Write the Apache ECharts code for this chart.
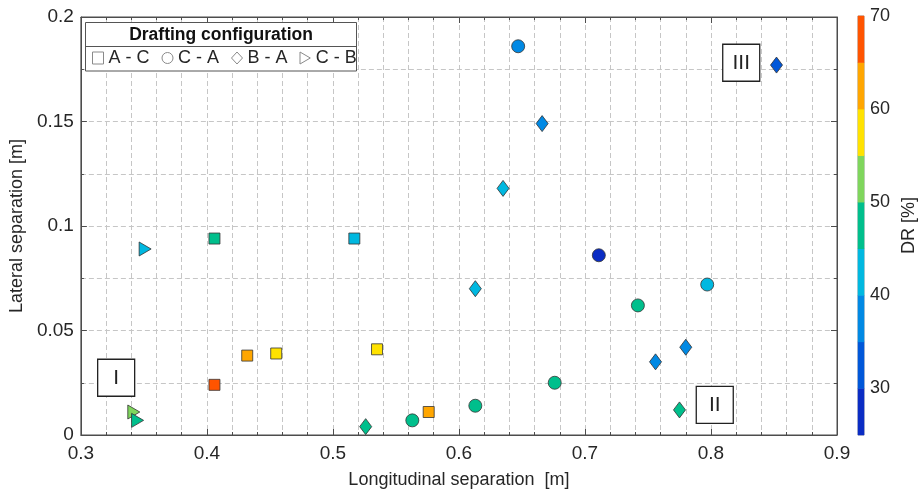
<!DOCTYPE html>
<html>
<head>
<meta charset="utf-8">
<script src="https://cdn.jsdelivr.net/npm/echarts@6/dist/echarts.min.js"></script>
<style>
html,body{margin:0;padding:0;background:#fff;}
#c{width:919px;height:494px;}
</style>
</head>
<body>
<div id="c"></div>
<script>
// ---- Data ----
// A - C (squares)
const acX  = [0.406, 0.432, 0.455, 0.406, 0.517, 0.535, 0.576];
const acY  = [0.024, 0.038, 0.039, 0.094, 0.094, 0.041, 0.011];
const acDR = [67, 62, 57, 47, 42, 57, 62];
// C - A (circles)
const caX  = [0.647, 0.711, 0.797, 0.742, 0.676, 0.613, 0.563];
const caY  = [0.186, 0.086, 0.072, 0.062, 0.025, 0.014, 0.007];
const caDR = [37, 27, 42, 47, 47, 47, 47];
// B - A (diamonds)
const baX  = [0.852, 0.666, 0.635, 0.613, 0.780, 0.756, 0.775, 0.526];
const baY  = [0.177, 0.149, 0.118, 0.070, 0.042, 0.035, 0.012, 0.004];
const baDR = [32, 37, 42, 42, 37, 37, 47, 47];
// C - B (right triangles)
const cbX  = [0.351, 0.342, 0.345];
const cbY  = [0.089, 0.011, 0.007];
const cbDR = [42, 52, 47];

// Region annotations
const annotLabels = ['I', 'II', 'III'];
const annotX = [0.328, 0.803, 0.824];
const annotY = [0.0274, 0.0144, 0.1781];

// Colour scale (DR [%])
const drEdges  = [25, 30, 35, 40, 45, 50, 55, 60, 65, 70];
const drColors = ['#0A2CC4', '#0057D9', '#0089E4', '#00B8E0', '#00BF8C', '#7FD65C', '#FFE200', '#FFA600', '#FF5400'];

const seriesNames = ['A - C', 'C - A', 'B - A', 'C - B'];
const legendTitle = 'Drafting configuration';

// ---- Build ----
const font = '"Liberation Sans", Arial, sans-serif';
const axisColor = '#4d4d4d';
const textColor = '#262626';
const dashed = {show: true, lineStyle: {color: '#c6c6c6', type: [5, 3], width: 1}};
const triPath = 'path://M0,0L12,7L0,14Z';

function pts(xs, ys, ds) { return xs.map((x, i) => [x, ys[i], ds[i]]); }

const pieces = drColors.map((c, i) => (i === drColors.length - 1)
  ? {gte: drEdges[i], lte: drEdges[i + 1], color: c}
  : {gte: drEdges[i], lt: drEdges[i + 1], color: c});

const binNames = drColors.map((c, i) => drEdges[i] + '-' + drEdges[i + 1]);
const cbData = drColors.map((c, i) => [0, i, (drEdges[i] + drEdges[i + 1]) / 2]);

const markerBorder = {borderColor: '#333', borderWidth: 0.8, opacity: 1};
const hollow = {color: '#fff', borderColor: '#8a8a8a', borderWidth: 1};

const chart = echarts.init(document.getElementById('c'));
const option = {
  animation: false,
  textStyle: {fontFamily: font},
  grid: [
    {left: 79, top: 17, width: 758, height: 418, show: true, borderColor: axisColor, borderWidth: 1},
    {left: 858, top: 16, width: 12, height: 419, show: true, borderColor: '#999', borderWidth: 1}
  ],
  xAxis: [
    {type: 'value', gridIndex: 0, min: 0.3, max: 0.9, interval: 0.1, position: 'bottom',
     axisLine: {show: true, onZero: false, lineStyle: {color: axisColor}},
     axisTick: {show: true, inside: true, length: 6, lineStyle: {color: axisColor}},
     minorTick: {show: true, splitNumber: 5, length: 3, lineStyle: {color: axisColor}},
     splitLine: dashed, minorSplitLine: dashed,
     axisLabel: {fontSize: 19, color: textColor, margin: 9},
     name: 'Longitudinal separation  [m]', nameLocation: 'middle', nameGap: 36,
     nameTextStyle: {fontSize: 18, color: textColor}},
    {type: 'value', gridIndex: 0, min: 0.3, max: 0.9, interval: 0.1, position: 'top',
     axisLine: {show: true, onZero: false, lineStyle: {color: axisColor}},
     axisTick: {show: true, inside: true, length: 6, lineStyle: {color: axisColor}},
     minorTick: {show: true, splitNumber: 5, length: 3, lineStyle: {color: axisColor}},
     splitLine: {show: false}, axisLabel: {show: false}},
    {type: 'category', gridIndex: 1, data: ['DR'], show: false}
  ],
  yAxis: [
    {type: 'value', gridIndex: 0, min: 0, max: 0.2, interval: 0.05, position: 'left',
     axisLine: {show: true, onZero: false, lineStyle: {color: axisColor}},
     axisTick: {show: true, inside: true, length: 6, lineStyle: {color: axisColor}},
     minorTick: {show: true, splitNumber: 2, length: 3, lineStyle: {color: axisColor}},
     splitLine: dashed, minorSplitLine: dashed,
     axisLabel: {fontSize: 19, color: textColor, margin: 7},
     name: 'Lateral separation [m]', nameLocation: 'middle', nameGap: 50,
     nameTextStyle: {fontSize: 18, color: textColor}},
    {type: 'value', gridIndex: 0, min: 0, max: 0.2, interval: 0.05, position: 'right',
     axisLine: {show: true, onZero: false, lineStyle: {color: axisColor}},
     axisTick: {show: true, inside: true, length: 6, lineStyle: {color: axisColor}},
     minorTick: {show: true, splitNumber: 2, length: 3, lineStyle: {color: axisColor}},
     splitLine: {show: false}, axisLabel: {show: false}},
    {type: 'category', gridIndex: 1, data: binNames, show: false},
    {type: 'value', gridIndex: 1, min: 25, max: 70, interval: 5, position: 'right',
     axisLine: {show: false}, axisTick: {show: false}, splitLine: {show: false},
     axisLabel: {fontSize: 18, color: textColor, margin: 6,
       formatter: v => (v % 10 === 0 ? String(v) : '')},
     name: 'DR [%]', nameLocation: 'middle', nameGap: 36,
     nameTextStyle: {fontSize: 18, color: textColor}}
  ],
  visualMap: [
    {type: 'piecewise', show: false, dimension: 2, seriesIndex: [0, 1, 2, 3], pieces: pieces},
    {type: 'piecewise', show: false, dimension: 2, seriesIndex: [5], pieces: pieces}
  ],
  legend: {
    left: 92, top: 49, padding: 0, itemGap: 12, itemWidth: 11, itemHeight: 12, z: 20,
    selectedMode: false,
    textStyle: {fontSize: 18, color: textColor},
    data: [
      {name: seriesNames[0], icon: 'rect', itemStyle: hollow},
      {name: seriesNames[1], icon: 'circle', itemStyle: hollow},
      {name: seriesNames[2], icon: 'diamond', itemStyle: hollow},
      {name: seriesNames[3], icon: triPath, itemStyle: hollow}
    ]
  },
  graphic: [
    {type: 'rect', z: 10, shape: {x: 85.5, y: 22.5, width: 271, height: 48.5},
     style: {fill: '#fff', stroke: '#555', lineWidth: 1}},
    {type: 'line', z: 11, shape: {x1: 85.5, y1: 46.5, x2: 356.5, y2: 46.5},
     style: {stroke: '#555', lineWidth: 1}},
    {type: 'text', z: 11, x: 221, y: 35,
     style: {text: legendTitle, font: 'bold 17.5px ' + font, fill: '#111',
             textAlign: 'center', textVerticalAlign: 'middle'}}
  ],
  series: [
    {name: seriesNames[0], type: 'scatter', xAxisIndex: 0, yAxisIndex: 0, symbol: 'rect', symbolSize: 11,
     itemStyle: markerBorder, data: pts(acX, acY, acDR)},
    {name: seriesNames[1], type: 'scatter', xAxisIndex: 0, yAxisIndex: 0, symbol: 'circle', symbolSize: 13,
     itemStyle: markerBorder, data: pts(caX, caY, caDR)},
    {name: seriesNames[2], type: 'scatter', xAxisIndex: 0, yAxisIndex: 0, symbol: 'diamond', symbolSize: [12, 16],
     itemStyle: markerBorder, data: pts(baX, baY, baDR)},
    {name: seriesNames[3], type: 'scatter', xAxisIndex: 0, yAxisIndex: 0, symbol: triPath, symbolSize: [12, 14],
     itemStyle: markerBorder, data: pts(cbX, cbY, cbDR)},
    {name: 'regions', type: 'scatter', xAxisIndex: 0, yAxisIndex: 0, symbol: 'rect', symbolSize: 37, z: 3,
     itemStyle: {color: '#fff', borderColor: '#222', borderWidth: 1.3, opacity: 1},
     label: {show: true, position: 'inside', formatter: '{b}', fontSize: 21, color: '#222'},
     data: annotLabels.map((t, i) => ({name: t, value: [annotX[i], annotY[i]]}))},
    {name: 'colorbar', type: 'heatmap', xAxisIndex: 2, yAxisIndex: 2,
     itemStyle: {borderWidth: 0}, data: cbData}
  ]
};
chart.setOption(option);
</script>
</body>
</html>
